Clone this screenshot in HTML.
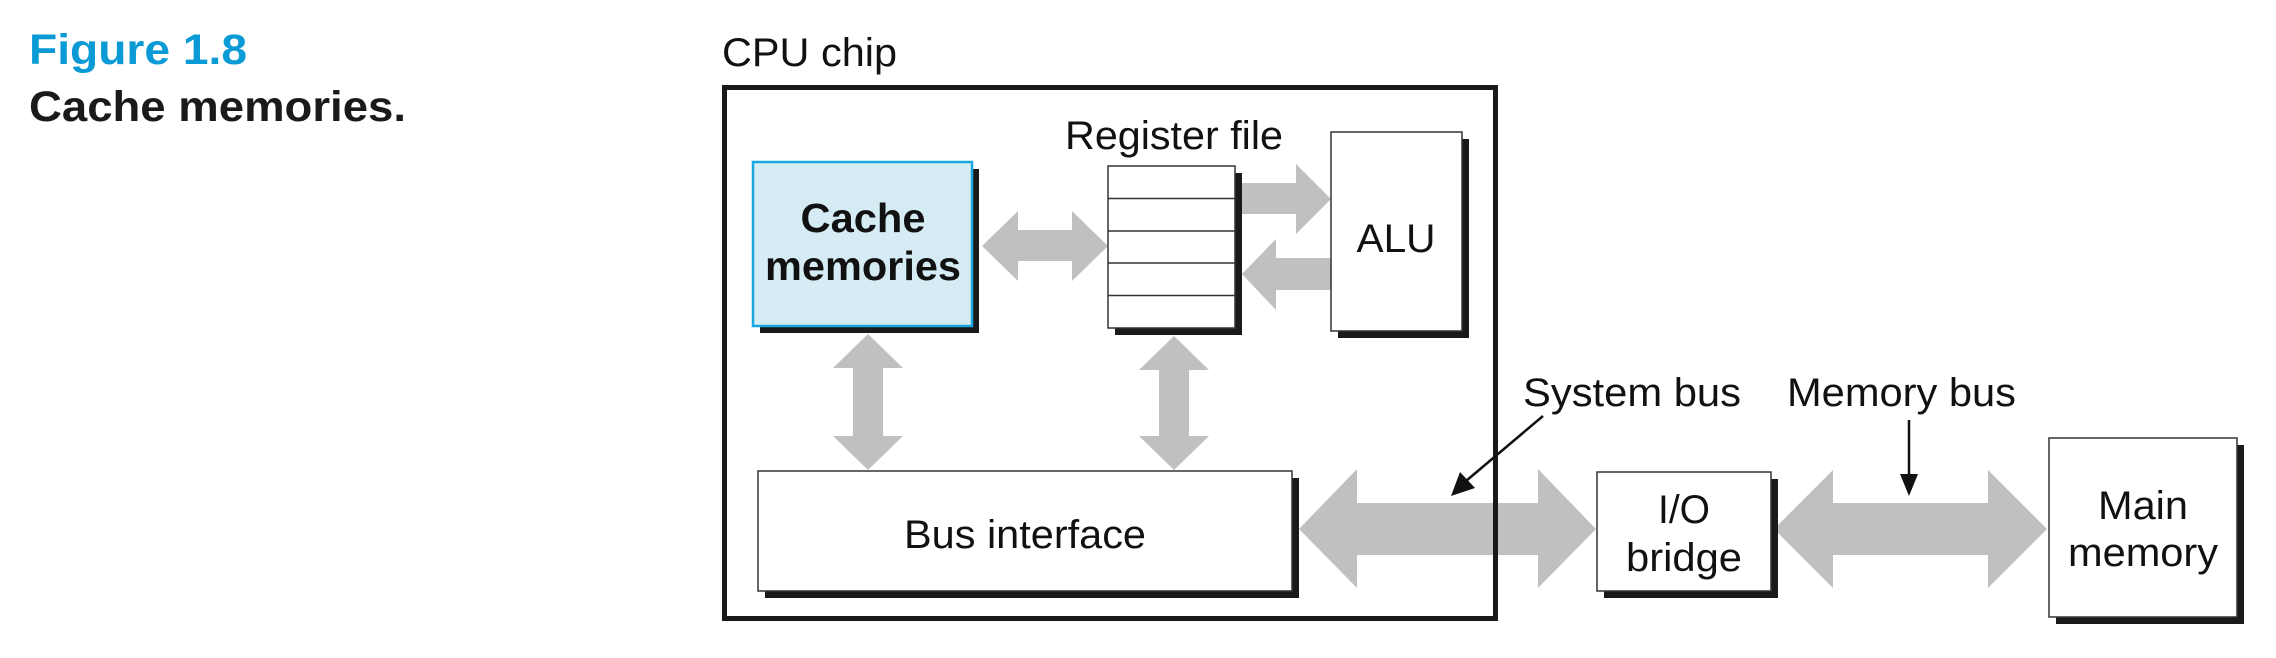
<!DOCTYPE html>
<html><head><meta charset="utf-8"><style>html,body{margin:0;padding:0;background:#fff}svg{display:block}</style></head>
<body>
<svg width="2276" height="658" viewBox="0 0 2276 658" xmlns="http://www.w3.org/2000/svg" font-family="Liberation Sans, Arial, sans-serif">
<rect width="2276" height="658" fill="#fff"/>
<text x="29" y="64" font-size="43" font-weight="bold" fill="#0a9ad6" textLength="218" lengthAdjust="spacingAndGlyphs">Figure 1.8</text>
<text x="29" y="121" font-size="43" font-weight="bold" fill="#1a1a1a" textLength="377" lengthAdjust="spacingAndGlyphs">Cache memories.</text>

<text x="722" y="66" font-size="40" fill="#111" textLength="175" lengthAdjust="spacingAndGlyphs">CPU chip</text>
<rect x="724.5" y="87.5" width="771" height="531" fill="none" stroke="#1a1a1a" stroke-width="5"/>

<g fill="#c0c0c0">
<polygon points="982,246 1018,211 1018,230 1072,230 1072,211 1108,246 1072,281 1072,261 1018,261 1018,281"/>
<polygon points="1242,183 1296,183 1296,164 1331,199 1296,234 1296,214 1242,214"/>
<polygon points="1331,258 1276,258 1276,239 1242,274 1276,310 1276,290 1331,290"/>
<polygon points="868,334 903,368 883,368 883,436 903,436 868,470 833,436 853,436 853,368 833,368"/>
<polygon points="1174,336 1209,370 1189,370 1189,436 1209,436 1174,470 1139,436 1159,436 1159,370 1139,370"/>
<polygon points="1299,529 1357,469 1357,503 1538,503 1538,469 1596,529 1538,588 1538,555 1357,555 1357,588"/>
<polygon points="1774,529 1833,470 1833,503 1988,503 1988,470 2047,529 1988,588 1988,555 1833,555 1833,588"/>
</g>
<line x1="1495.5" y1="85" x2="1495.5" y2="621" stroke="#1a1a1a" stroke-width="5"/>

<rect x="760" y="169" width="219" height="164" fill="#1a1a1a"/>
<rect x="753" y="162" width="219" height="164" fill="#d5ecf4" stroke="#19a7e0" stroke-width="2.5"/>
<text x="863" y="232" font-size="41" font-weight="bold" text-anchor="middle" fill="#111" textLength="125" lengthAdjust="spacingAndGlyphs">Cache</text>
<text x="863" y="280" font-size="41" font-weight="bold" text-anchor="middle" fill="#111" textLength="196" lengthAdjust="spacingAndGlyphs">memories</text>

<text x="1174" y="149" font-size="40" text-anchor="middle" fill="#111" textLength="218" lengthAdjust="spacingAndGlyphs">Register file</text>
<rect x="1115" y="173" width="127" height="162" fill="#1a1a1a"/>
<rect x="1108" y="166" width="127" height="162" fill="#fff" stroke="#333" stroke-width="1.5"/>
<g stroke="#333" stroke-width="1.5">
<line x1="1108" y1="198.5" x2="1235" y2="198.5"/>
<line x1="1108" y1="231" x2="1235" y2="231"/>
<line x1="1108" y1="263" x2="1235" y2="263"/>
<line x1="1108" y1="295.5" x2="1235" y2="295.5"/>
</g>

<rect x="1338" y="139" width="131" height="199" fill="#1a1a1a"/>
<rect x="1331" y="132" width="131" height="199" fill="#fff" stroke="#333" stroke-width="1.5"/>
<text x="1396" y="252" font-size="40" text-anchor="middle" fill="#111" textLength="79" lengthAdjust="spacingAndGlyphs">ALU</text>

<rect x="765" y="478" width="534" height="120" fill="#1a1a1a"/>
<rect x="758" y="471" width="534" height="120" fill="#fff" stroke="#333" stroke-width="1.5"/>
<text x="1025" y="548" font-size="40" text-anchor="middle" fill="#111" textLength="242" lengthAdjust="spacingAndGlyphs">Bus interface</text>

<rect x="1604" y="479" width="174" height="119" fill="#1a1a1a"/>
<rect x="1597" y="472" width="174" height="119" fill="#fff" stroke="#333" stroke-width="1.5"/>
<text x="1684" y="523" font-size="40" text-anchor="middle" fill="#111" textLength="52" lengthAdjust="spacingAndGlyphs">I/O</text>
<text x="1684" y="571" font-size="40" text-anchor="middle" fill="#111" textLength="116" lengthAdjust="spacingAndGlyphs">bridge</text>

<rect x="2056" y="445" width="188" height="179" fill="#1a1a1a"/>
<rect x="2049" y="438" width="188" height="179" fill="#fff" stroke="#333" stroke-width="1.5"/>
<text x="2143" y="519" font-size="40" text-anchor="middle" fill="#111" textLength="90" lengthAdjust="spacingAndGlyphs">Main</text>
<text x="2143" y="566" font-size="40" text-anchor="middle" fill="#111" textLength="150" lengthAdjust="spacingAndGlyphs">memory</text>

<text x="1523" y="406" font-size="40" fill="#111" textLength="218" lengthAdjust="spacingAndGlyphs">System bus</text>
<text x="1787" y="406" font-size="40" fill="#111" textLength="229" lengthAdjust="spacingAndGlyphs">Memory bus</text>
<line x1="1543" y1="416" x2="1466" y2="481" stroke="#111" stroke-width="2.5"/>
<polygon points="1451,496 1460,472 1475,488" fill="#111"/>
<line x1="1909" y1="420" x2="1909" y2="478" stroke="#111" stroke-width="2.5"/>
<polygon points="1909,496 1900,474 1918,474" fill="#111"/>
</svg>
</body></html>
